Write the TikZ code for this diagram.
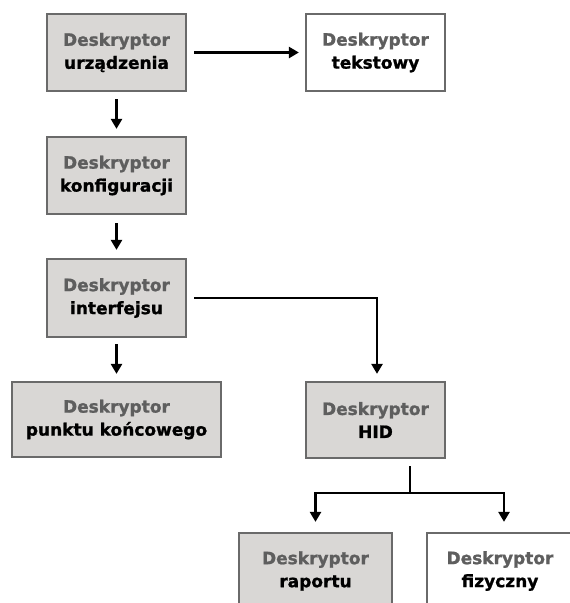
\documentclass[tikz,border=0pt]{standalone}
\usepackage{fontspec}
\setmainfont{DejaVu Sans}[BoldFeatures={FakeBold=1.2}]
\usetikzlibrary{arrows.meta}
\definecolor{boxfill}{HTML}{D9D7D5}
\definecolor{boxline}{HTML}{6A6A6A}
\definecolor{toptext}{HTML}{5E5E5E}
\newcommand{\dtext}[1]{{\color{toptext}Deskryptor}\\#1}
\tikzset{
  desc/.style={draw=boxline, line width=2.3pt, fill=boxfill, rectangle,
    minimum width=139pt, minimum height=77pt, align=center, inner sep=0pt,
    font=\fontsize{17}{23}\selectfont\bfseries},
  white/.style={fill=white},
  conn/.style={line width=2.7pt, draw=black},
  arr/.style={conn, -{Triangle[length=10pt,width=11pt]}},
}
\begin{document}
\begin{tikzpicture}[x=1pt,y=-1pt]
\useasboundingbox (0,0) rectangle (570,603);
\clip (0,0) rectangle (570,603);
\node[desc] (dev) at (116.5,52.5) {\dtext{urządzenia}};
\node[desc,white] (str) at (375.5,52.5) {\dtext{tekstowy}};
\node[desc] (cfg) at (116.5,175.5) {\dtext{konfiguracji}};
\node[desc,minimum height=78pt] (itf) at (116.5,298) {\dtext{interfejsu}};
\node[desc,minimum width=209pt,minimum height=75pt] (ep) at (116.5,419.5) {\dtext{punktu końcowego}};
\node[desc,minimum height=76pt] (hid) at (375.5,420) {\dtext{HID}};
\node[desc,minimum width=153pt,minimum height=76pt] (rep) at (315.5,571) {\dtext{raportu}};
\node[desc,white,minimum width=146pt,minimum height=76pt] (phy) at (500,571) {\dtext{fizyczny}};
\coordinate (br) at (410,493);
\draw[arr, shorten <=7pt, shorten >=6pt] (dev.east) -- (str.west);
\draw[arr, shorten <=7pt, shorten >=7pt] (dev.south) -- (cfg.north);
\draw[arr, shorten <=8pt, shorten >=8pt] (cfg.south) -- (itf.north);
\draw[arr, shorten <=6pt, shorten >=7pt] (itf.south) -- (ep.north);
\draw[arr, shorten <=7pt, shorten >=7pt] (itf.east) -| ([xshift=1.5pt]hid.north);
\draw[conn, shorten <=7pt] (hid.south -| br) -- (br);
\draw[arr, shorten >=10pt] (br) -| (rep.north);
\draw[arr, shorten >=10pt] (br) -| ([xshift=4pt]phy.north);
\end{tikzpicture}
\end{document}
